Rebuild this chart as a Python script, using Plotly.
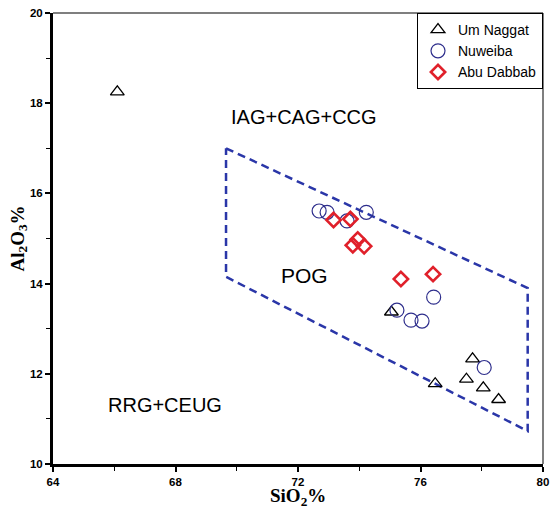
import plotly.graph_objects as go

# ---- data ----
um_naggat_sio2 = [66.1, 75.05, 77.7, 77.5, 76.48, 78.05, 78.55]
um_naggat_al2o3 = [18.25, 13.37, 12.33, 11.88, 11.78, 11.69, 11.43]

nuweiba_sio2 = [72.69, 72.95, 73.6, 74.23, 75.23, 75.69, 76.05, 76.43, 78.08]
nuweiba_al2o3 = [15.61, 15.58, 15.39, 15.58, 13.41, 13.19, 13.17, 13.70, 12.14]

abu_dabbab_sio2 = [73.16, 73.71, 73.95, 73.79, 74.16, 75.36, 76.41]
abu_dabbab_al2o3 = [15.41, 15.43, 14.98, 14.85, 14.83, 14.10, 14.21]

# POG field boundary
pog_x = [69.65, 79.5, 79.5, 69.65, 69.65]
pog_y = [17.0, 13.9, 10.73, 14.15, 17.0]

field_labels = ["IAG+CAG+CCG", "POG", "RRG+CEUG"]
field_label_x = [72.2, 72.2, 67.65]
field_label_y = [17.69, 14.18, 11.31]
field_label_size = [20, 21, 20]

x_ticks = [64, 68, 72, 76, 80]
y_ticks = [10, 12, 14, 16, 18, 20]

fig = go.Figure()

fig.add_trace(go.Scatter(
    x=pog_x, y=pog_y, mode="lines", showlegend=False, hoverinfo="skip",
    line=dict(color="#2a36a8", width=2.5, dash="8px,5px")))

fig.add_trace(go.Scatter(
    x=um_naggat_sio2, y=um_naggat_al2o3, mode="markers", name="Um Naggat",
    marker=dict(symbol="triangle-up-open", size=12, color="black",
                line=dict(width=1.3, color="black"))))
fig.add_trace(go.Scatter(
    x=nuweiba_sio2, y=nuweiba_al2o3, mode="markers", name="Nuweiba",
    marker=dict(symbol="circle-open", size=14, color="#2e2e8c",
                line=dict(width=1.2, color="#2e2e8c"))))
fig.add_trace(go.Scatter(
    x=abu_dabbab_sio2, y=abu_dabbab_al2o3, mode="markers", name="Abu Dabbab",
    marker=dict(symbol="diamond-open", size=11, color="#e0202a",
                line=dict(width=2.6, color="#e0202a"))))

for t, x, y, s in zip(field_labels, field_label_x, field_label_y, field_label_size):
    fig.add_annotation(x=x, y=y, text=t, showarrow=False,
                       font=dict(family="Liberation Sans, Arial", size=s, color="black"))

# axis titles
title_font = dict(family="Liberation Serif, Times New Roman", size=19, color="black", weight="bold")
fig.add_annotation(xref="paper", yref="paper", x=0.5, y=0, yshift=-20, borderpad=0,
                   xanchor="center", yanchor="top", showarrow=False,
                   text="SiO<sub>2</sub>%", font=title_font)
fig.add_annotation(xref="paper", yref="paper", x=0, y=0.5, xshift=-35, borderpad=0,
                   xanchor="center", yanchor="middle", showarrow=False, textangle=-90,
                   text="Al<sub>2</sub>O<sub>3</sub>%", font=title_font)

# top and right thin frame
fig.add_shape(type="line", xref="paper", yref="paper", x0=0, x1=1, y0=1, y1=1,
              line=dict(color="#555555", width=1.5))
fig.add_shape(type="line", xref="paper", yref="paper", x0=1, x1=1, y0=0, y1=1,
              line=dict(color="#555555", width=1.5))

tickfont = dict(family="Liberation Sans, Arial", size=11.5, color="black", weight="bold")

fig.update_xaxes(
    range=[64, 80], tickvals=x_ticks, ticktext=[str(v) for v in x_ticks],
    ticks="outside", ticklen=5, tickwidth=1.5, tickcolor="black",
    minor=dict(dtick=2, tick0=64, ticks="outside", ticklen=4, tickcolor="black", tickwidth=1),
    showline=True, linewidth=2.5, linecolor="black", showgrid=False, zeroline=False,
    tickfont=tickfont, automargin=False)
fig.update_yaxes(
    range=[10, 20], tickvals=y_ticks, ticktext=[str(v) for v in y_ticks],
    ticks="outside", ticklen=5, tickwidth=1.5, tickcolor="black",
    minor=dict(dtick=1, tick0=10, ticks="outside", ticklen=4, tickcolor="black", tickwidth=1),
    showline=True, linewidth=3, linecolor="black", showgrid=False, zeroline=False,
    tickfont=tickfont, automargin=False)

fig.update_layout(
    width=550, height=506,
    margin=dict(l=53, r=7, t=13, b=42, autoexpand=False),
    plot_bgcolor="white", paper_bgcolor="white",
    legend=dict(x=1, y=1, xanchor="right", yanchor="top",
                bgcolor="white", bordercolor="black", borderwidth=1,
                font=dict(family="Liberation Sans, Arial", size=14, color="black"),
                tracegroupgap=6, itemwidth=30),
)

fig.write_html("out.html", config={"displayModeBar": False},
               post_script="document.body.style.margin='0';")
